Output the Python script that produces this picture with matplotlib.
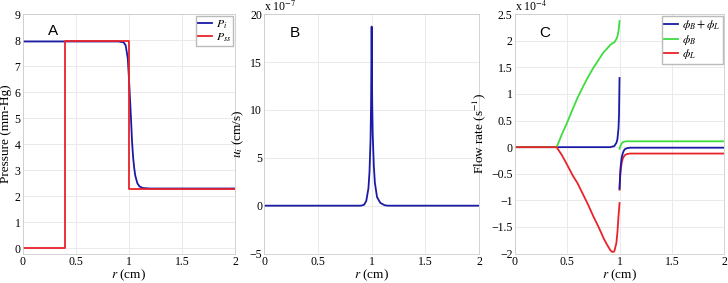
import matplotlib
matplotlib.use("Agg")
import matplotlib.pyplot as plt
from matplotlib.ticker import FuncFormatter

# ---------------------------------------------------------------------------
# Data
# ---------------------------------------------------------------------------

# Panel A: pressure (mm-Hg)
r_pi = [0, 0.9, 0.95, 0.97, 0.99, 1.0, 1.01, 1.02, 1.03, 1.04, 1.05, 1.06,
        1.08, 1.1, 1.13, 1.2, 2.0]
p_i = [7.95, 7.95, 7.92, 7.8, 7.3, 6.6, 5.8, 5.0, 4.1, 3.5, 3.1, 2.8,
       2.5, 2.38, 2.32, 2.3, 2.3]
r_pss = [0, 0.4, 0.4, 1.0, 1.0, 2.0]
p_ss = [0, 0, 7.95, 7.95, 2.3, 2.3]

# Panel B: u_i (x 1e-7 cm/s)
r_u = [0, 0.9, 0.93, 0.95, 0.97, 0.98, 0.99, 0.995, 1.0, 1.005, 1.01, 1.02,
       1.03, 1.05, 1.08, 1.12, 1.15, 2.0]
u_i = [0, 0, 0.1, 0.5, 1.8, 3.5, 7.0, 11.0, 18.7, 11.0, 7.5, 4.2,
       2.4, 0.9, 0.3, 0.05, 0, 0]

# Panel C: flow rates (x 1e-4 1/s), inner (r<=1) and outer (r>=1) pieces
r_in = [0, 0.4, 0.45, 0.5, 0.55, 0.6, 0.65, 0.7, 0.75, 0.8, 0.85, 0.88,
        0.91, 0.93, 0.95, 0.97, 0.98, 0.99, 0.995, 1.0]
phi_b_in = [0, 0, 0.24, 0.46, 0.7, 0.93, 1.13, 1.32, 1.49, 1.64, 1.79, 1.85,
            1.92, 1.95, 1.97, 2.03, 2.08, 2.18, 2.26, 2.37]
phi_l_in = [0, 0, -0.15, -0.33, -0.52, -0.68, -0.88, -1.08, -1.3, -1.5, -1.72, -1.83,
            -1.93, -1.97, -1.96, -1.8, -1.6, -1.3, -1.18, -1.05]
phi_sum_in = [0, 0, 0, 0, 0, 0, 0, 0, 0, 0, 0, 0,
              0, 0.01, 0.02, 0.08, 0.15, 0.35, 0.6, 1.3]

r_out = [1.0, 1.005, 1.01, 1.02, 1.03, 1.04, 1.05, 1.07, 1.1, 1.15, 2.0]
phi_b_out = [-0.03, 0.0, 0.03, 0.07, 0.09, 0.1, 0.105, 0.11, 0.11, 0.11, 0.11]
phi_l_out = [-0.8, -0.6, -0.45, -0.3, -0.22, -0.18, -0.15, -0.13, -0.12, -0.12, -0.12]
phi_sum_out = [-0.78, -0.55, -0.38, -0.2, -0.12, -0.07, -0.04, -0.02, -0.01, -0.01, -0.01]

# ---------------------------------------------------------------------------
# Style
# ---------------------------------------------------------------------------

BLUE = "#1a1aa6"
RED = "#e8232a"
GREEN = "#3fdc3f"
LW = 1.3

plt.rcParams["font.family"] = ["Liberation Serif", "DejaVu Serif"]
plt.rcParams["mathtext.fontset"] = "stix"
plt.rcParams["font.size"] = 9

short_fmt = FuncFormatter(lambda v, _: f"{v:g}".replace("-", "\u2212"))


def style_axes(ax, ylim, yticks, ylabel, ylabel_x):
    ax.set_xlim(0, 2)
    ax.set_xticks([0, 0.5, 1, 1.5, 2])
    ax.xaxis.set_major_formatter(short_fmt)
    ax.set_ylim(*ylim)
    ax.set_yticks(yticks)
    ax.yaxis.set_major_formatter(short_fmt)
    ax.grid(True, color="#e6e6e6", linewidth=0.6)
    ax.set_axisbelow(True)
    for sp in ax.spines.values():
        sp.set_color("#cccccc")
        sp.set_linewidth(0.6)
    ax.tick_params(length=0, pad=1.5, labelsize=8.5)
    ax.set_xlabel(r"$r$ (cm)", fontsize=9.5, labelpad=0)
    ax.set_ylabel(ylabel, fontsize=9.5)
    ax.yaxis.set_label_coords(ylabel_x, 0.5)


def add_legend(ax):
    ax.legend(loc="upper right", fontsize=8.5, handlelength=1.2, handletextpad=0.3,
              borderpad=0.2, labelspacing=0.05, fancybox=False, edgecolor="#bbbbbb",
              borderaxespad=0.15, framealpha=1)


fig = plt.figure(figsize=(7.28, 2.83), dpi=100)
axA = fig.add_axes([0.031, 0.104, 0.292, 0.846])
axB = fig.add_axes([0.363, 0.104, 0.295, 0.846])
axC = fig.add_axes([0.707, 0.104, 0.288, 0.846])

# Panel A
axA.plot(r_pi, p_i, color=BLUE, lw=LW, label=r"$P_i$")
axA.plot(r_pss, p_ss, color=RED, lw=LW, label=r"$P_{ss}$")
style_axes(axA, (-0.2, 9), range(0, 10), "Pressure (mm-Hg)", -0.048)
add_legend(axA)
axA.text(0.144, 0.93, "A", transform=axA.transAxes, family="Liberation Sans",
         fontsize=11, ha="center", va="center")

# Panel B
axB.plot(r_u, u_i, color=BLUE, lw=LW)
style_axes(axB, (-5, 20), [-5, 0, 5, 10, 15, 20], r"$u_i$ (cm/s)", -0.085)
axB.text(0.0, 1.0, r"x 10$^{-7}$", transform=axB.transAxes, fontsize=8.5,
         ha="left", va="bottom")
axB.text(0.144, 0.92, "B", transform=axB.transAxes, family="Liberation Sans",
         fontsize=11, ha="center", va="center")

# Panel C
axC.plot(r_in, phi_sum_in, color=BLUE, lw=LW, label=r"$\phi_B + \phi_L$")
axC.plot(r_in, phi_b_in, color=GREEN, lw=LW, label=r"$\phi_B$")
axC.plot(r_in, phi_l_in, color=RED, lw=LW, label=r"$\phi_L$")
axC.plot(r_out, phi_b_out, color=GREEN, lw=LW)
axC.plot(r_out, phi_l_out, color=RED, lw=LW)
axC.plot(r_out, phi_sum_out, color=BLUE, lw=LW)
style_axes(axC, (-2, 2.5), [-2, -1.5, -1, -0.5, 0, 0.5, 1, 1.5, 2, 2.5],
           r"Flow rate (s$^{-1}$)", -0.125)
add_legend(axC)
axC.text(0.0, 1.0, r"x 10$^{-4}$", transform=axC.transAxes, fontsize=8.5,
         ha="left", va="bottom")
axC.text(0.144, 0.92, "C", transform=axC.transAxes, family="Liberation Sans",
         fontsize=11, ha="center", va="center")

fig.savefig("out.png", dpi=100)
